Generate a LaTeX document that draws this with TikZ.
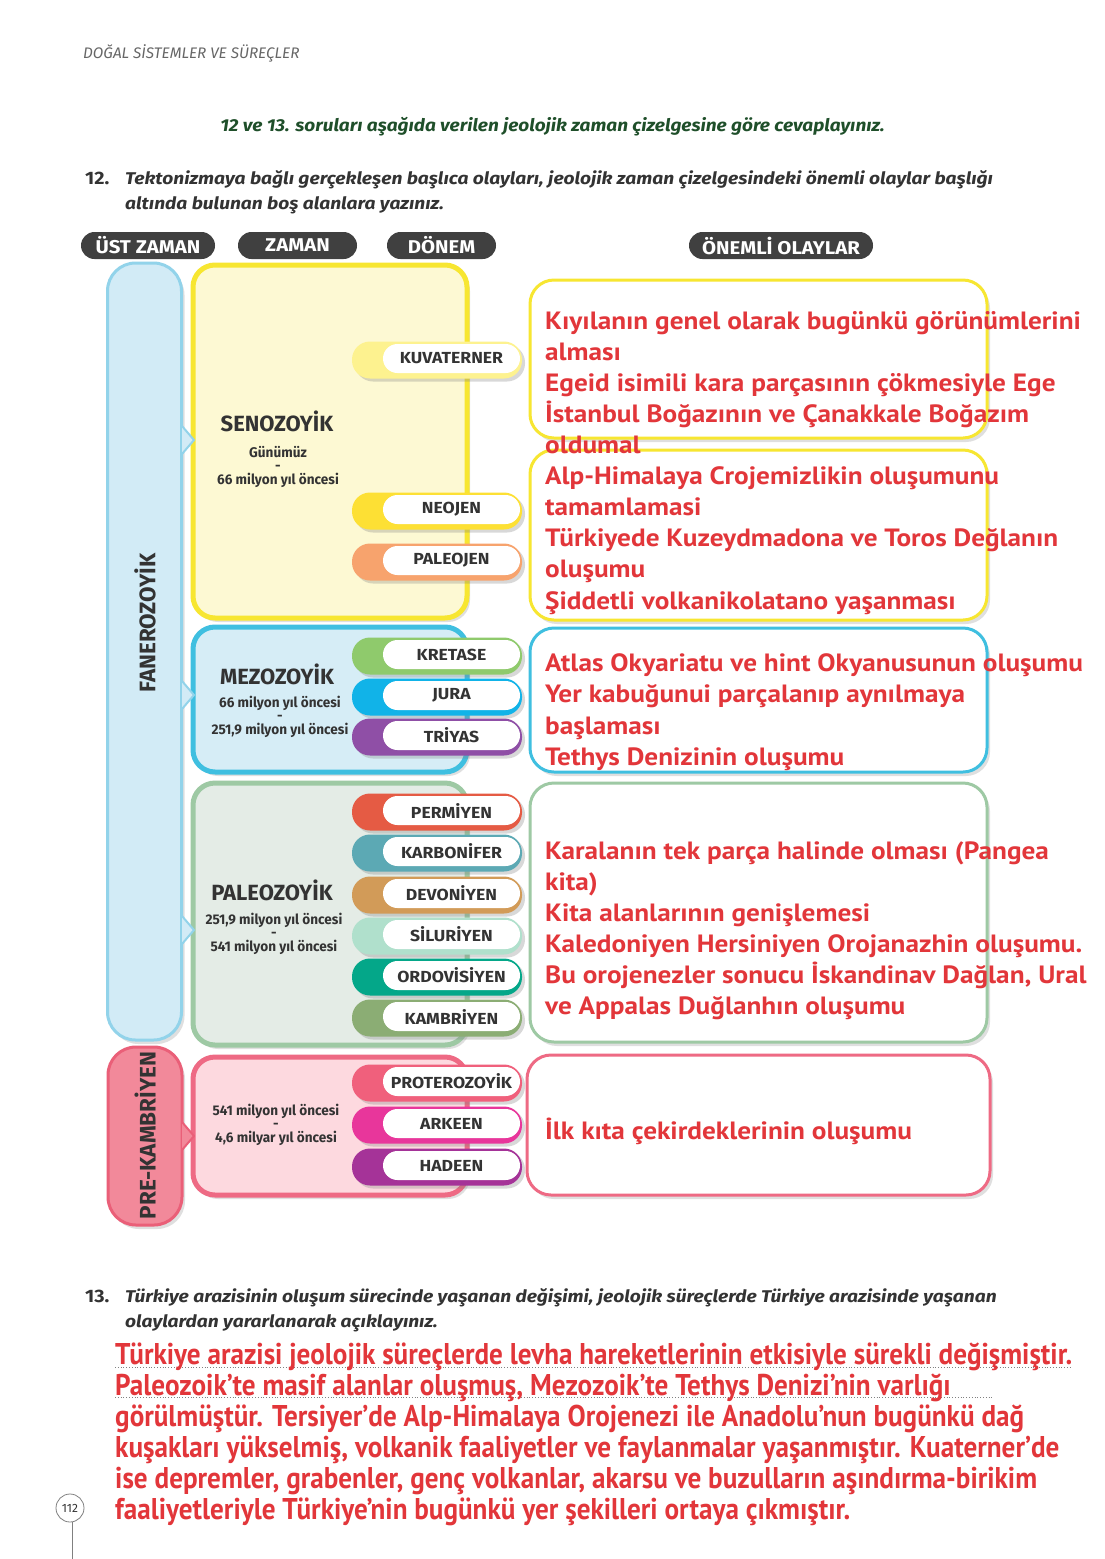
\documentclass[tikz,border=0pt]{standalone}
\usepackage{fontspec}
\setmainfont{Fira Sans}
\newfontfamily\hd{Fira Sans}
\newfontfamily\hdw[FakeStretch=1.1]{Fira Sans}
\newfontfamily\hdq[FakeStretch=1.13]{Fira Sans}
\newfontfamily\hdn[FakeStretch=0.97]{Fira Sans}
\newfontfamily\rd[FakeStretch=1.09]{PT Sans}
\newfontfamily\rdc[FakeStretch=0.905]{PT Sans}
\usetikzlibrary{shadows}
\definecolor{darkpill}{HTML}{404040}
\definecolor{txtdark}{HTML}{333333}
\definecolor{hdrgray}{HTML}{666666}
\definecolor{dgreen}{HTML}{1F4F2A}
\definecolor{redt}{HTML}{E2363A}
\definecolor{fanfill}{HTML}{D2EBF6}
\definecolor{fanborder}{HTML}{92D3EA}
\definecolor{prefill}{HTML}{F2899A}
\definecolor{preborder}{HTML}{EA5F78}
\definecolor{senofill}{HTML}{FDF9D3}
\definecolor{senoborder}{HTML}{F7E631}
\definecolor{mezofill}{HTML}{D6EDF6}
\definecolor{mezoborder}{HTML}{3FBFE0}
\definecolor{paleofill}{HTML}{E4ECE6}
\definecolor{paleoborder}{HTML}{9EC9A4}
\definecolor{przfill}{HTML}{FDD9DF}
\definecolor{przborder}{HTML}{EE6A84}
\definecolor{cKuv}{HTML}{FDF28F}\definecolor{cNeo}{HTML}{FDE034}\definecolor{cPal}{HTML}{F7A36D}
\definecolor{cKre}{HTML}{8FCA6C}\definecolor{cJur}{HTML}{11B3E8}\definecolor{cTri}{HTML}{8F4FA6}
\definecolor{cPer}{HTML}{E55B44}\definecolor{cKar}{HTML}{5CA9B4}\definecolor{cDev}{HTML}{D29B58}
\definecolor{cSil}{HTML}{B0E0CC}\definecolor{cOrd}{HTML}{04A789}\definecolor{cKam}{HTML}{8BAD74}
\definecolor{cPro}{HTML}{F0607C}\definecolor{cArk}{HTML}{E8369B}\definecolor{cHad}{HTML}{A53398}
\tikzset{
  shad/.style={drop shadow={opacity=0.25, shadow xshift=3pt, shadow yshift=-4pt}},
  hpill/.style={fill=darkpill, rounded corners=13.5, minimum height=27, inner sep=0,
    text=white, font=\hdw\bfseries\fontsize{18.5}{18.5}\selectfont},
  colbox/.style={rectangle, rounded corners=28, line width=3, inner sep=0, shad},
  zbox/.style={rectangle, rounded corners=22, line width=5, inner sep=0, minimum width=274, shad},
  rbox/.style={rectangle, rounded corners=24, line width=3, fill=white, inner sep=0, shad},
  pillout/.style={rectangle, rounded corners=18, minimum width=170, minimum height=37, inner sep=0,
    drop shadow={opacity=0.3, shadow xshift=3pt, shadow yshift=-3pt}},
  pillin/.style={rectangle, fill=white, rounded corners=14.5, minimum width=137, minimum height=29,
    inner sep=0, text=txtdark, font=\hdw\bfseries\fontsize{16}{16}\selectfont},
  ztitle/.style={inner sep=0, text=txtdark, font=\hd\bfseries\fontsize{22}{22}\selectfont},
  zsub/.style={inner sep=0, align=center, text=txtdark, font=\hdn\bfseries\fontsize{14}{13.5}\selectfont},
  coltxt/.style={inner sep=0, rotate=90, text=txtdark, font=\hd\bfseries\fontsize{22.5}{22.5}\selectfont},
  redl/.style={inner sep=0, anchor=base west, text=redt, font=\rd\bfseries\fontsize{25}{25}\selectfont},
  redc/.style={inner sep=0, anchor=base west, text=redt, font=\rdc\bfseries\fontsize{30}{30}\selectfont},
  qtxt/.style={inner sep=0, anchor=base west, text=txtdark, font=\hdq\bfseries\itshape\fontsize{17}{17}\selectfont},
  qnum/.style={inner sep=0, anchor=base west, text=txtdark, font=\hdw\bfseries\fontsize{18}{18}\selectfont},
}
\newcommand\pill[4]{%
  \node[pillout, fill=#3] (#1) at (437,#2) {};
  \node[pillin] (#1t) at (451.5,#2-1.5) {\raisebox{-2pt}{#4}};
}
\begin{document}
\begin{tikzpicture}[x=1pt,y=-1pt]
\useasboundingbox[fill=white] (0,0) rectangle (1105,1559);

% page header
\node[inner sep=0, anchor=west, text=hdrgray, font=\hd\itshape\fontsize{15.3}{15.3}\selectfont] (hdr) at (83,53) {DOĞAL SİSTEMLER VE SÜREÇLER};

% instruction
\node[inner sep=0, text=dgreen, font=\hdw\bfseries\itshape\fontsize{17.3}{17.3}\selectfont] (instr) at (552.5,127)
  {12 ve 13. soruları aşağıda verilen jeolojik zaman çizelgesine göre cevaplayınız.};

% question 12
\node[qnum] (q12n) at (85,184) {12.};
\node[qtxt] (q12a) at (125,184) {Tektonizmaya bağlı gerçekleşen başlıca olayları, jeolojik zaman çizelgesindeki önemli olaylar başlığı};
\node[qtxt] (q12b) at (125,209) {altında bulunan boş alanlara yazınız.};

% column headers
\node[hpill, minimum width=134] (h1) at (148,245.5) {\raisebox{-1pt}{ÜST ZAMAN}};
\node[hpill, minimum width=119] (h2) at (297.5,245.5) {\raisebox{-1pt}{ZAMAN}};
\node[hpill, minimum width=109] (h3) at (441.5,245.5) {\raisebox{-1pt}{DÖNEM}};
\node[hpill, minimum width=184] (h4) at (781,245.5) {\raisebox{-1pt}{ÖNEMLİ OLAYLAR}};

% eon columns
\node[colbox, fill=fanfill, draw=fanborder, minimum width=74, minimum height=777] (fan) at (144.5,651.5) {};
\node[coltxt] (fant) at (145,623) {FANEROZOYİK};
\node[colbox, fill=prefill, draw=preborder, minimum width=74, minimum height=178] (pre) at (145,1136) {};
\node[coltxt] (pret) at (145,1135.5) {PRE-KAMBRİYEN};

% era boxes
\node[zbox, fill=senofill, draw=senoborder, minimum height=353] (seno) at (330,441.5) {};
\node[zbox, fill=mezofill, draw=mezoborder, minimum height=145] (mezo) at (330,699.5) {};
\node[zbox, fill=paleofill, draw=paleoborder, minimum height=262] (paleo) at (330,914) {};
\node[zbox, fill=przfill, draw=przborder, minimum height=138] (prz) at (330,1126) {};

% pointers
\draw[fanborder, fill=fanfill, line width=2, line join=round] (182,426) -- (194,440) -- (182,454);
\draw[fanborder, fill=fanfill, line width=2, line join=round] (182,681) -- (194,695) -- (182,709);
\draw[fanborder, fill=fanfill, line width=2, line join=round] (182,916) -- (194,930) -- (182,944);
\draw[preborder, fill=prefill, line width=2, line join=round] (182,1122) -- (194,1136) -- (182,1150);

% era texts
\node[ztitle] (senot) at (277,421) {SENOZOYİK};
\node[zsub] (senod) at (278,466.5) {Günümüz\\-\\66 milyon yıl öncesi};
\node[ztitle] (mezot) at (277,674) {MEZOZOYİK};
\node[zsub] (mezod) at (280,716.5) {66 milyon yıl öncesi\\-\\251,9 milyon yıl öncesi};
\node[ztitle] (paleot) at (272,890) {PALEOZOYİK};
\node[zsub] (paleod) at (274,933.5) {251,9 milyon yıl öncesi\\-\\541 milyon yıl öncesi};
\node[zsub] (przd) at (276,1124.5) {541 milyon yıl öncesi\\-\\4,6 milyar yıl öncesi};

% period pills
\pill{kuv}{360}{cKuv}{KUVATERNER}
\pill{neo}{511}{cNeo}{NEOJEN}
\pill{pal}{562}{cPal}{PALEOJEN}
\pill{kre}{656}{cKre}{KRETASE}
\pill{jur}{697}{cJur}{JURA}
\pill{tri}{737}{cTri}{TRİYAS}
\pill{per}{812}{cPer}{PERMİYEN}
\pill{kar}{853}{cKar}{KARBONİFER}
\pill{dev}{895}{cDev}{DEVONİYEN}
\pill{sil}{936}{cSil}{SİLURİYEN}
\pill{ord}{977}{cOrd}{ORDOVİSİYEN}
\pill{kam}{1018}{cKam}{KAMBRİYEN}
\pill{pro}{1083}{cPro}{PROTEROZOYİK}
\pill{ark}{1125}{cArk}{ARKEEN}
\pill{had}{1167}{cHad}{HADEEN}

% event boxes
\node[rbox, draw=senoborder, minimum width=457, minimum height=158] (ev1) at (758.5,359) {};
\node[rbox, draw=senoborder, minimum width=457, minimum height=170] (ev2) at (758.5,535) {};
\node[rbox, draw=mezoborder, minimum width=457, minimum height=144] (ev3) at (758.5,700) {};
\node[rbox, draw=paleoborder, minimum width=457, minimum height=259] (ev4) at (758.5,912.5) {};
\node[rbox, draw=przborder, minimum width=463, minimum height=140] (ev5) at (758.5,1125) {};

% event texts
\node[redl] (e1a) at (545,329) {Kıyılanın genel olarak bugünkü görünümlerini};
\node[redl] (e1b) at (545,360) {alması};
\node[redl] (e1c) at (545,391) {Egeid isimili kara parçasının çökmesiyle Ege};
\node[redl] (e1d) at (545,422) {İstanbul Boğazının ve Çanakkale Boğazım};
\node[redl] (e1e) at (545,453) {oldumal};
\node[redl] (e2a) at (545,484) {Alp-Himalaya Crojemizlikin oluşumunu};
\node[redl] (e2b) at (545,515) {tamamlamasi};
\node[redl] (e2c) at (545,546) {Türkiyede Kuzeydmadona ve Toros Değlanın};
\node[redl] (e2d) at (545,577) {oluşumu};
\node[redl] (e2e) at (545,609) {Şiddetli volkanikolatano yaşanması};
\node[redl] (e3a) at (545,671) {Atlas Okyariatu ve hint Okyanusunun oluşumu};
\node[redl] (e3b) at (545,702) {Yer kabuğunui parçalanıp aynılmaya};
\node[redl] (e3c) at (545,734) {başlaması};
\node[redl] (e3d) at (545,765) {Tethys Denizinin oluşumu};
\node[redl] (e4a) at (545,859) {Karalanın tek parça halinde olması (Pangea};
\node[redl] (e4b) at (545,890) {kita)};
\node[redl] (e4c) at (545,921) {Kita alanlarının genişlemesi};
\node[redl] (e4d) at (545,952) {Kaledoniyen Hersiniyen Orojanazhin oluşumu.};
\node[redl] (e4e) at (545,983) {Bu orojenezler sonucu İskandinav Dağlan, Ural};
\node[redl] (e4f) at (545,1014) {ve Appalas Duğlanhın oluşumu};
\node[redl] (e5a) at (545,1139) {İlk kıta çekirdeklerinin oluşumu};

% question 13
\node[qnum] (q13n) at (85,1302) {13.};
\node[qtxt] (q13a) at (125,1302) {Türkiye arazisinin oluşum sürecinde yaşanan değişimi, jeolojik süreçlerde Türkiye arazisinde yaşanan};
\node[qtxt] (q13b) at (125,1327) {olaylardan yararlanarak açıklayınız.};

% answer lines
\draw[gray, line width=0.8, dotted] (115,1367) -- (1070,1367);
\draw[gray, line width=0.8, dotted] (115,1397) -- (993,1397);
\node[redc] (a1) at (115,1364) {Türkiye arazisi jeolojik süreçlerde levha hareketlerinin etkisiyle sürekli değişmiştir.};
\node[redc] (a2) at (115,1395) {Paleozoik’te masif alanlar oluşmuş, Mezozoik’te Tethys Denizi’nin varlığı};
\node[redc] (a3) at (115,1426) {görülmüştür. Tersiyer’de Alp-Himalaya Orojenezi ile Anadolu’nun bugünkü dağ};
\node[redc] (a4) at (115,1457) {kuşakları yükselmiş, volkanik faaliyetler ve faylanmalar yaşanmıştır. Kuaterner’de};
\node[redc] (a5) at (115,1488) {ise depremler, grabenler, genç volkanlar, akarsu ve buzulların aşındırma-birikim};
\node[redc] (a6) at (115,1519) {faaliyetleriyle Türkiye’nin bugünkü yer şekilleri ortaya çıkmıştır.};

% page number
\node[circle, draw=gray, line width=0.8, minimum size=28, inner sep=0, text=txtdark,
  font=\hd\fontsize{12}{12}\selectfont] (pg) at (70,1508) {112};
\draw[gray, line width=0.8] (pg.south) ++(2,0) coordinate (pgs) -- (72,1559);
\end{tikzpicture}
\end{document}
